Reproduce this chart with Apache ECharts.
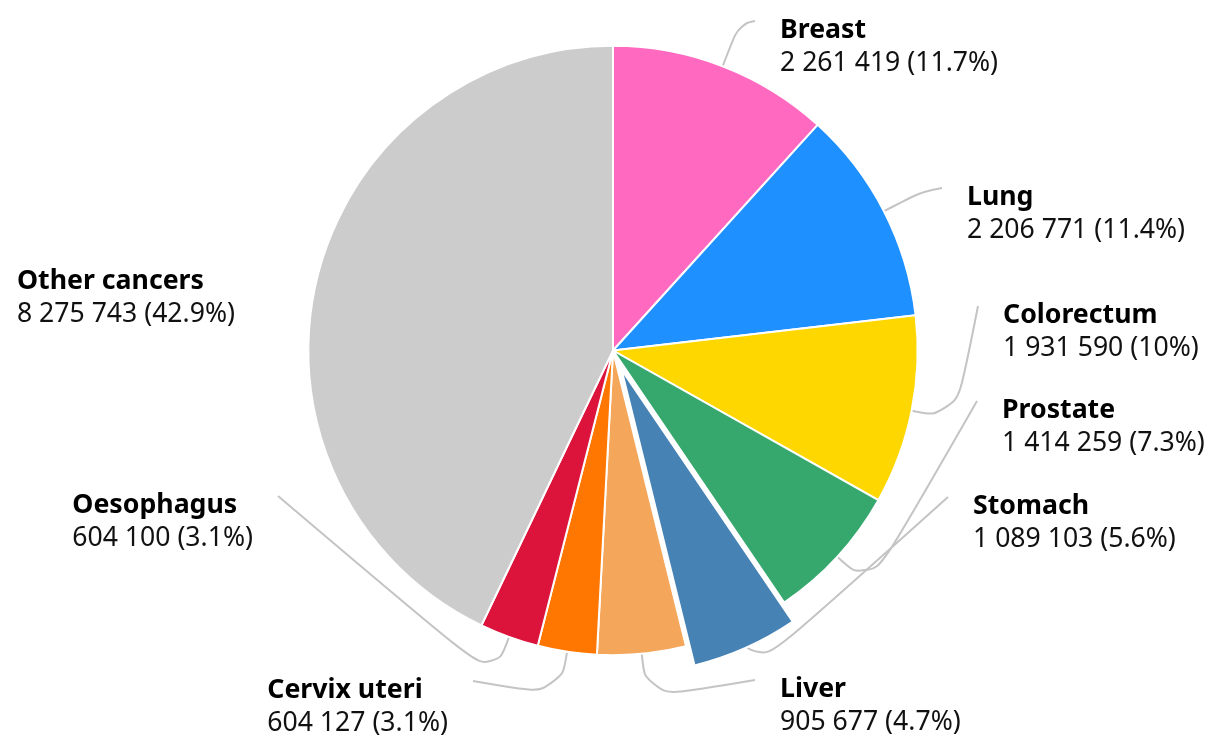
<!DOCTYPE html>
<html>
<head>
<meta charset="utf-8">
<title>New cancer cases</title>
<script src="https://cdn.jsdelivr.net/npm/echarts@6/dist/echarts.min.js"></script>
<style>
    html, body { margin: 0; padding: 0; background: #fff; }
    #cancer_pie { width: 1206px; height: 735px; }
</style>
</head>
<body>
<div id="cancer_pie"></div>
<script>
/** 数据 **/
var categories = ['Breast', 'Lung', 'Colorectum', 'Prostate', 'Stomach', 'Liver', 'Cervix uteri', 'Oesophagus', 'Other cancers'];
var cases = [2261419, 2206771, 1931590, 1414259, 1089103, 905677, 604127, 604100, 8275743];
var colors = ['#FF69C0', '#1E90FF', '#FFD700', '#36A86E', '#4682B4', '#F4A65A', '#FF7700', '#DC143C', '#CCCCCC'];
var pulledName = 'Stomach';

/** 布局 **/
var pieCenter = [613, 350.5];
var pieRadius = '82.9%';
var pullOffset = 21;
var lineLength = 45;
// 引线终点 (像素)
var labelEnds = [[755, 21], [942, 188], [978, 306], [977, 401], [948, 497], [755, 680], [473, 681], [278, 496], [260, 272]];
var labelGap = 25;

var total = cases.reduce(function (a, b) { return a + b; }, 0);

function fmtNum(v) {
    return String(v).replace(/\B(?=(\d{3})+(?!\d))/g, ' ');
}

/** 主饼图数据 (被拉出的扇区透明) **/
function getPieData() {
    var list = [];
    for (var i = 0; i < categories.length; i++) {
        var item = { name: categories[i], value: cases[i], itemStyle: { color: colors[i] } };
        if (categories[i] == pulledName) item.itemStyle = { color: 'rgba(0,0,0,0)', borderColor: 'rgba(0,0,0,0)' };
        if (categories[i] == 'Other cancers') item.labelLine = { show: false };
        list.push(item);
    }
    return list;
}

/** 拉出的扇区 **/
function getPulledData() {
    var list = [];
    for (var i = 0; i < categories.length; i++) {
        var show = categories[i] == pulledName;
        list.push({
            name: categories[i],
            value: cases[i],
            itemStyle: show ? { color: colors[i] } : { color: 'rgba(0,0,0,0)', borderWidth: 0 }
        });
    }
    return list;
}

function getPulledCenter() {
    var before = 0, idx = categories.indexOf(pulledName);
    for (var i = 0; i < idx; i++) before += cases[i];
    var mid = (before + cases[idx] / 2) / total * Math.PI * 2;
    return [pieCenter[0] + pullOffset * Math.sin(mid), pieCenter[1] - pullOffset * Math.cos(mid)];
}

/** 标签布局 **/
function layoutLabel(params) {
    var i = params.dataIndex;
    var end = labelEnds[i];
    var rightSide = end[0] > pieCenter[0];
    var res = {
        x: rightSide ? end[0] + labelGap : end[0] - labelGap,
        y: end[1] - 7.5,
        align: rightSide ? 'left' : 'right',
        verticalAlign: 'top'
    };
    var pts = params.labelLinePoints;
    if (pts && pts.length >= 2) {
        var p0 = pts[0];
        var dx = p0[0] - pieCenter[0], dy = p0[1] - pieCenter[1];
        var d = Math.sqrt(dx * dx + dy * dy) || 1;
        var p1 = [p0[0] + dx / d * lineLength, p0[1] + dy / d * lineLength];
        res.labelLinePoints = [[p0[0], p0[1]], p1, [end[0], end[1]]];
    }
    return res;
}

var option = {
    animation: false,
    series: [
        {
            name: 'New cases',
            type: 'pie',
            radius: pieRadius,
            center: pieCenter,
            startAngle: 90,
            data: getPieData(),
            itemStyle: {
                borderColor: '#fff',
                borderWidth: 2
            },
            label: {
                show: true,
                position: 'outside',
                formatter: function (p) {
                    var pct = Math.round(p.value / total * 1000) / 10;
                    return '{n|' + p.name + '}\n{v|' + fmtNum(p.value) + ' (' + pct + '%)}';
                },
                rich: {
                    n: { fontFamily: 'Noto Sans', fontSize: 26.7, fontWeight: 'bold', color: '#000', lineHeight: 33.5, align: 'left' },
                    v: { fontFamily: 'Noto Sans', fontSize: 26.6, color: '#111', lineHeight: 33.5, align: 'left' }
                }
            },
            labelLine: {
                show: true,
                length: lineLength,
                length2: 17,
                smooth: 0.5,
                lineStyle: { color: '#c4c4c4', width: 2 }
            },
            labelLayout: layoutLabel
        },
        {
            name: 'Pulled',
            type: 'pie',
            radius: pieRadius,
            center: getPulledCenter(),
            startAngle: 90,
            silent: true,
            data: getPulledData(),
            itemStyle: {
                borderColor: '#fff',
                borderWidth: 2
            },
            label: { show: false },
            labelLine: { show: false }
        }
    ]
};

var myEcharts = echarts.init(document.getElementById('cancer_pie'));
myEcharts.setOption(option);
</script>
</body>
</html>
